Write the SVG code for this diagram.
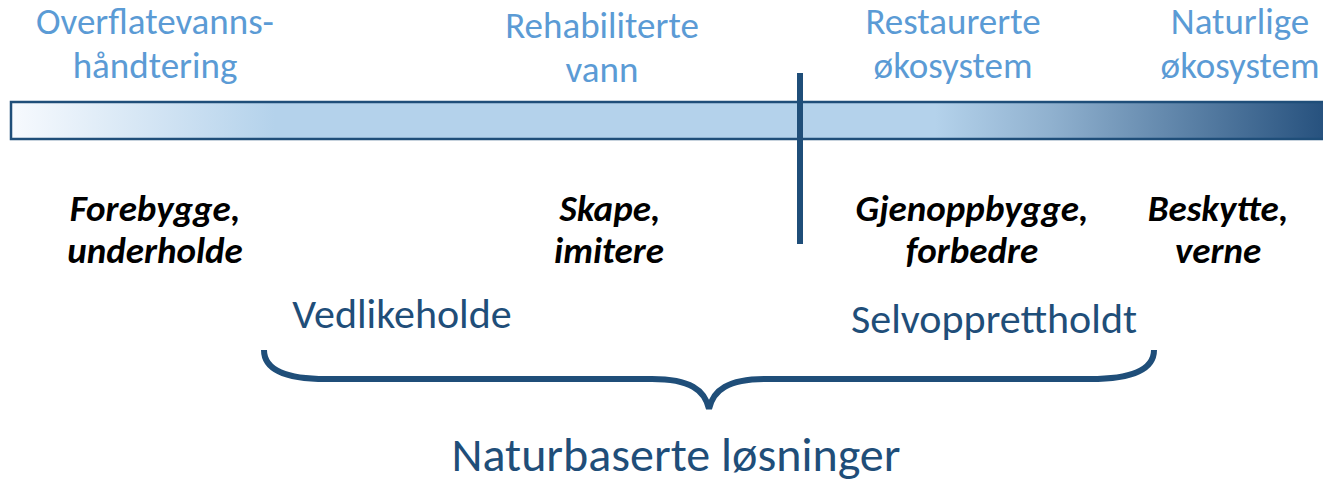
<svg xmlns="http://www.w3.org/2000/svg" width="1323" height="482" viewBox="0 0 1323 482">
<defs>
<linearGradient id="barGrad" x1="0" y1="0" x2="1" y2="0" gradientUnits="objectBoundingBox">
<stop offset="0" stop-color="#F7FAFE"/>
<stop offset="0.2" stop-color="#B4D2EB"/>
<stop offset="0.7" stop-color="#B4D2EB"/>
<stop offset="0.79" stop-color="#8FB0CE"/>
<stop offset="1" stop-color="#244F7C"/>
</linearGradient>
<style>
.cat{font-family:Carlito,"Open Sans","Noto Sans",sans-serif;font-size:37px;fill:#5B9BD5;text-anchor:middle}
.act{font-family:Carlito,"Open Sans","Noto Sans",sans-serif;font-size:37px;font-weight:bold;font-style:italic;fill:#000;text-anchor:middle}
.lbl{font-family:Carlito,"Open Sans","Noto Sans",sans-serif;font-size:42px;fill:#1F4E79;text-anchor:middle}
.big{font-family:Carlito,"Open Sans","Noto Sans",sans-serif;font-size:48px;fill:#1F4E79;text-anchor:middle}
</style>
</defs>
<rect x="0" y="0" width="1323" height="482" fill="#fff"/>
<g id="bar">
<rect x="11" y="102" width="1320" height="37" fill="url(#barGrad)" stroke="#1F4E79" stroke-width="2.5"/>
</g>
<g id="divider">
<line x1="800" y1="73" x2="800" y2="244" stroke="#1F4E79" stroke-width="6"/>
</g>
<g id="cat1"><text class="cat" x="155" y="34">Overflatevanns-</text><text class="cat" x="155" y="78">håndtering</text></g>
<g id="cat2"><text class="cat" x="602" y="38">Rehabiliterte</text><text class="cat" x="602" y="82">vann</text></g>
<g id="cat3"><text class="cat" x="953" y="34">Restaurerte</text><text class="cat" x="953" y="78">økosystem</text></g>
<g id="cat4"><text class="cat" x="1240" y="34">Naturlige</text><text class="cat" x="1240" y="78">økosystem</text></g>
<g id="act1"><text class="act" x="155" y="221">Forebygge,</text><text class="act" x="155" y="263">underholde</text></g>
<g id="act2"><text class="act" x="610" y="221">Skape,</text><text class="act" x="609" y="263">imitere</text></g>
<g id="act3"><text class="act" x="972" y="221">Gjenoppbygge,</text><text class="act" x="972" y="263">forbedre</text></g>
<g id="act4"><text class="act" x="1218" y="221">Beskytte,</text><text class="act" x="1218" y="263">verne</text></g>
<g id="vedlikeholde"><text class="lbl" x="402" y="328">Vedlikeholde</text></g>
<g id="selvopprettholdt"><text class="lbl" x="994" y="333">Selvopprettholdt</text></g>
<g id="connectors">
<path d="M264,350 C264,370 286,379 326,379 L652,379 C690,379 705,390 709,409 C713,390 728,379 766,379 L1090,379 C1132,379 1154,370 1154,350" fill="none" stroke="#1F4E79" stroke-width="6"/>
</g>
<g id="nbs"><text class="big" x="676" y="471">Naturbaserte løsninger</text></g>
</svg>
